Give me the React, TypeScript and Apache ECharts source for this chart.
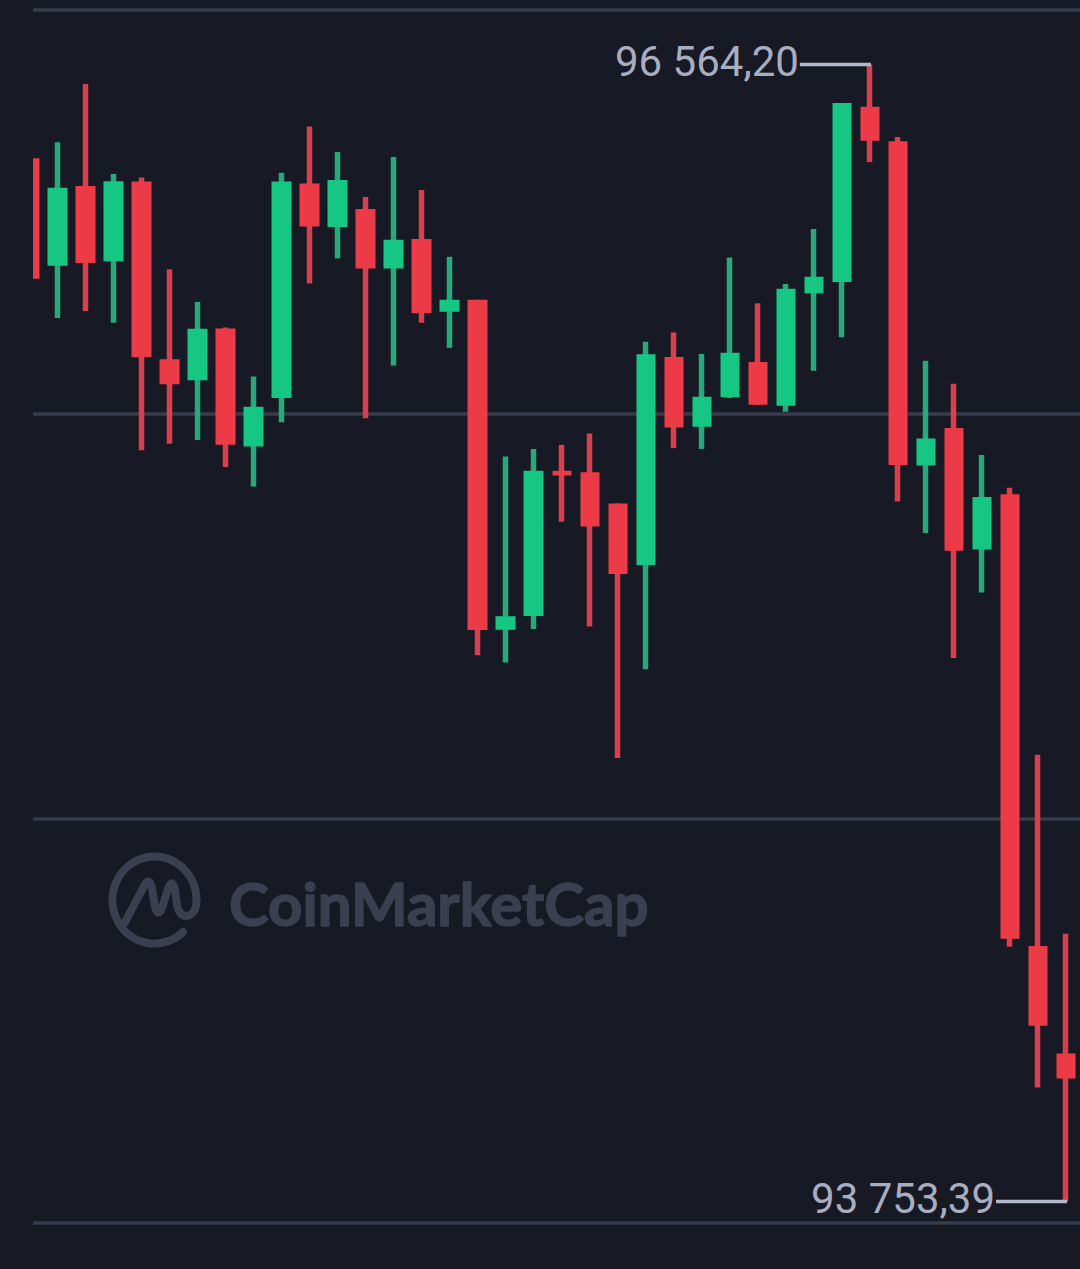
import React, { useEffect, useRef } from "react";
import * as echarts from "echarts";

const opens = [96333, 96067, 96264, 96078, 96275, 95836, 95784, 95912, 95620, 95740, 96270, 96163, 96207, 96060, 96133, 95953, 95983, 95167, 95201, 95560, 95556, 95479, 95327, 95841, 95669, 95742, 95829, 95721, 95999, 96027, 96460, 96375, 95573, 95666, 95365, 95502, 94385, 94119];
const closes = [96035, 96260, 96074, 96276, 95841, 95774, 95911, 95624, 95718, 96275, 96164, 96279, 96060, 96131, 95950, 95983, 95166, 95200, 95560, 95548, 95422, 95305, 95848, 95667, 95743, 95852, 95723, 96010, 96040, 96469, 96376, 95574, 95640, 95362, 95495, 94403, 94188, 94057];
const lows = [96035, 95938, 95955, 95926, 95611, 95627, 95636, 95569, 95521, 95680, 96023, 96085, 95690, 95820, 95926, 95864, 95104, 95086, 95169, 95434, 95175, 94850, 95069, 95616, 95614, 95740, 95723, 95706, 95807, 95890, 96323, 95484, 95406, 95097, 95259, 94383, 94035, 93753.39];
const highs = [96333, 96372, 96516, 96294, 96285, 96058, 95977, 95914, 95793, 96297, 96411, 96348, 96237, 96336, 96254, 96089, 95983, 95595, 95614, 95624, 95652, 95479, 95879, 95902, 95849, 96087, 95974, 96022, 96158, 96469, 96564.2, 96385, 95832, 95775, 95599, 95518, 94858, 94415];
const categories = opens.map((_, i) => String(i));
const gridPrices = [96700, 95700, 94700, 93700];
const extremeIndexes = [30, 37];
const extremePrices = [96564.2, 93753.39];
const extremeLabels = ["96 564,20", "93 753,39"];

const BG = "#171924";
const GRID = "#383b4b";
const RED = "#ec3a46";
const GREEN = "#16c784";
const RED_WICK = "#d8404e";
const GREEN_WICK = "#27a97a";
const NOTE = "#a9adc0";
const LEADER = "#b4b8cb";
const MARK = "#3c3f4f";

const LOGO_D =
  "M124.5 923 L143 888 Q149 875 152 888 L155 907 Q158 918 162 908 L168 889 Q172 877 175 890 L177 905 Q180 919 190 915 Q197 911 196.5 900 A42 43.5 0 1 0 183 932";

export default function App() {
  const ref = useRef<HTMLDivElement>(null);

  useEffect(() => {
    document.body.style.margin = "0";
    document.body.style.background = BG;
    echarts.graphic.registerShape("logo", echarts.graphic.extendPath(LOGO_D, {}));
    const chart = echarts.init(ref.current!, null, { renderer: "svg" });
    const ohlc = opens.map((o, i) => [o, closes[i], lows[i], highs[i]]);
    chart.setOption({
      animation: false,
      backgroundColor: BG,
      grid: { left: 15.5, top: 9.7, width: 1066, height: 1213.3, containLabel: false },
      xAxis: { type: "category", data: categories, show: false, boundaryGap: true },
      yAxis: {
        type: "value",
        min: 93700,
        max: 96700,
        show: false,
        splitLine: { show: false },
      },
      tooltip: { show: false },
      graphic: [
        {
          type: "logo",
          x: 0,
          y: 0,
          z: 1,
          silent: true,
          style: { fill: "none", stroke: MARK, lineWidth: 8, lineCap: "round", lineJoin: "round" },
        },
        {
          type: "text",
          x: 229,
          y: 873,
          z: 1,
          silent: true,
          style: {
            text: "CoinMarketCap",
            fill: MARK,
            stroke: MARK,
            lineWidth: 1.5,
            font: "700 60px Lato, 'Open Sans', sans-serif",
          },
        },
        {
          type: "rect",
          z: 100,
          silent: true,
          shape: { x: 0, y: 0, width: 33, height: 1269 },
          style: { fill: BG },
        },
      ],
      series: [
        {
          name: "wicks",
          type: "candlestick",
          z: 2,
          silent: true,
          barWidth: 0.01,
          data: ohlc,
          itemStyle: {
            color: GREEN_WICK,
            color0: RED_WICK,
            borderColor: GREEN_WICK,
            borderColor0: RED_WICK,
            borderWidth: 5.5,
          },
          markLine: {
            silent: true,
            z: 1,
            symbol: "none",
            animation: false,
            label: { show: false },
            lineStyle: { color: GRID, width: 3.5, type: "solid", opacity: 1 },
            data: gridPrices.map((p) => ({ yAxis: p })),
          },
        },
        {
          name: "bodies",
          type: "candlestick",
          z: 3,
          silent: true,
          barWidth: 20,
          data: ohlc,
          itemStyle: {
            color: GREEN,
            color0: RED,
            borderColor: GREEN,
            borderColor0: RED,
            borderWidth: 0,
          },
        },
        {
          name: "extremes",
          type: "custom",
          z: 10,
          silent: true,
          clip: false,
          encode: { x: 0, y: 1 },
          data: extremeIndexes.map((x, i) => [x, extremePrices[i]]),
          renderItem: (params: any, api: any) => {
            const p = api.coord([api.value(0), api.value(1)]);
            return {
              type: "group",
              children: [
                {
                  type: "line",
                  shape: { x1: p[0] - 70, y1: p[1], x2: p[0] + 1, y2: p[1] },
                  style: { stroke: LEADER, lineWidth: 3.5 },
                },
                {
                  type: "text",
                  x: p[0] - 71,
                  y: p[1] - 3,
                  style: {
                    text: extremeLabels[params.dataIndex],
                    fill: NOTE,
                    font: "400 42px Roboto, sans-serif",
                    textAlign: "right",
                    textVerticalAlign: "middle",
                  },
                },
              ],
            };
          },
        },
      ],
    });
    return () => chart.dispose();
  }, []);

  return <div ref={ref} style={{ position: "absolute", left: 0, top: 0, width: 1080, height: 1269 }} />;
}
